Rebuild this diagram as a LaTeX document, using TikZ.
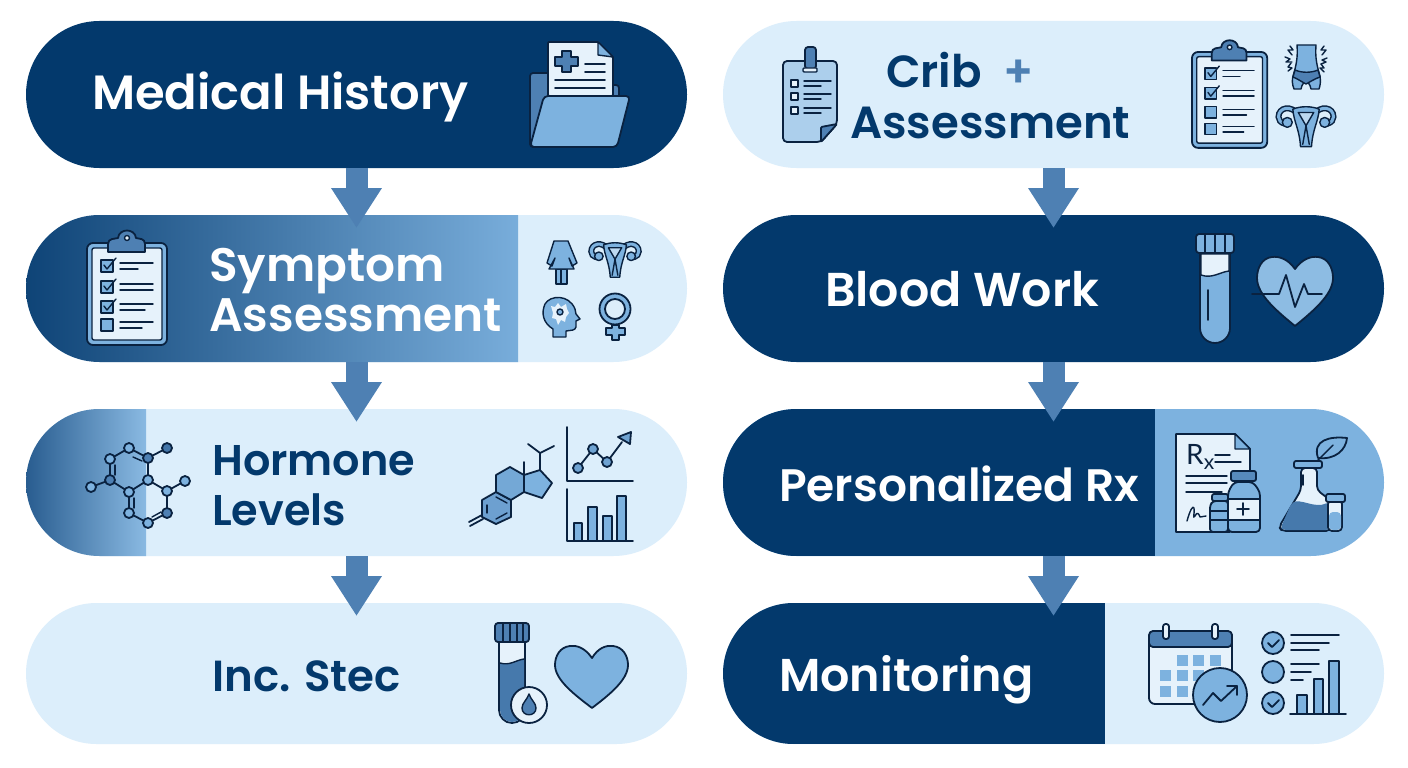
\documentclass[tikz,border=0pt]{standalone}
\usepackage{fontspec}
\setmainfont{Poppins}[BoldFont={Poppins SemiBold}]
\newfontfamily\rxfont{Lato}
\usetikzlibrary{arrows.meta,calc,shapes.misc}

\definecolor{navy}{HTML}{03396C}
\definecolor{sky}{HTML}{DCEEFB}
\definecolor{midblue}{HTML}{7DB2DF}
\definecolor{steel}{HTML}{4E80B3}
\definecolor{ink}{HTML}{0A2240}
\definecolor{paper}{HTML}{E6F2FB}

\tikzset{
  pill/.style={rounded rectangle, minimum width=661pt, minimum height=147pt, inner sep=0pt, outer sep=0pt},
  pilltxt/.style={font=\fontsize{#1}{50}\selectfont\bfseries, anchor=base west, inner sep=0pt, align=left},
  flow/.style={-{Triangle[length=40pt,width=48pt]}, line width=22pt, color=steel},
  icon/.style={draw=ink, line width=1.8pt, line join=round, line cap=round},
  thin icon/.style={draw=ink, line width=1.4pt, line join=round, line cap=round},
}

% clipboard with its board's top left corner at #1, #3 lists the ticked rows
\newcommand{\clipbrd}[3]{
  \begin{scope}[shift={#1}, scale=#2]
    \filldraw[icon, fill=midblue, rounded corners=6pt] (0,0) rectangle (80,102);
    \filldraw[thin icon, fill=paper, rounded corners=2pt] (5,5) rectangle (75,97);
    \filldraw[icon, fill=steel] (21,9) -- (21,1) .. controls (21,-5) and (28,-4) .. (31,-5) .. controls (32,-15) and (48,-15) .. (49,-5) .. controls (52,-4) and (58,-5) .. (58,1) -- (58,9) -- cycle;
    \filldraw[thin icon, fill=paper] (40,-5) circle (2.5);
    \foreach \rowy/\lineone/\linetwo in {17/66/51, 38/66/66, 58/66/58, 76/66/55}{
      \filldraw[thin icon, fill=midblue] (14,\rowy) rectangle (26,\rowy+12);
      \draw[thin icon] (33,\rowy+3) -- (\lineone,\rowy+3);
      \draw[thin icon] (33,\rowy+9) -- (\linetwo,\rowy+9);
    }
    \foreach \rowy in {#3}{
      \draw[thin icon] (17,\rowy+5) -- (20,\rowy+9) -- (29,\rowy-2);
    }
  \end{scope}
}

% uterus with the middle of its top at #1
\newcommand{\womb}[2]{
  \begin{scope}[shift={#1}, scale=#2]
    \draw[ink, line width=6pt, line cap=round] (-7,7) .. controls (-13,-2) and (-25,0) .. (-25,9) .. controls (-25,12) and (-23,14) .. (-20,15);
    \draw[ink, line width=6pt, line cap=round] (7,7) .. controls (13,-2) and (25,0) .. (25,9) .. controls (25,12) and (23,14) .. (20,15);
    \draw[midblue, line width=3pt, line cap=round] (-7,7) .. controls (-13,-2) and (-25,0) .. (-25,9) .. controls (-25,12) and (-23,14) .. (-20,15);
    \draw[midblue, line width=3pt, line cap=round] (7,7) .. controls (13,-2) and (25,0) .. (25,9) .. controls (25,12) and (23,14) .. (20,15);
    \filldraw[thin icon, fill=midblue] (-17,14) circle (4.5);
    \filldraw[thin icon, fill=midblue] (17,14) circle (4.5);
    \filldraw[thin icon, fill=midblue] (-12,2) .. controls (-5,-1) and (5,-1) .. (12,2) .. controls (11,14) and (6,20) .. (5,36) -- (-5,36) .. controls (-6,20) and (-11,14) .. (-12,2) -- cycle;
    \filldraw[thin icon, fill=paper!60!midblue] (-7,5) -- (7,5) -- (0,17) -- cycle;
    \draw[thin icon] (0,17) -- (-3,34);
    \draw[thin icon] (0,17) -- (3,34);
  \end{scope}
}

\begin{document}
\begin{tikzpicture}[x=1pt,y=-1pt]
  \useasboundingbox (0,0) rectangle (1408,768);
  \fill[white] (0,0) rectangle (1408,768);

  % pills
  \node[pill, fill=navy] (history) at (356.5,94.5) {};
  \node[pill, fill=sky] (symptom) at (356.5,288.5) {};
  \begin{scope}
    \clip[rounded corners=73.5pt] (26,215) rectangle (687,362);
    \shade[left color=navy!85!steel, middle color=navy!55!steel, right color=midblue!90!steel] (26,215) rectangle (518,362);
  \end{scope}
  \node[pill, fill=sky] (hormone) at (356.5,482.5) {};
  \begin{scope}
    \clip[rounded corners=73.5pt] (26,409) rectangle (687,556);
    \shade[left color=navy!50!steel, right color=midblue!90!white] (26,409) rectangle (146,556);
  \end{scope}
  \node[pill, fill=sky, minimum height=141pt] (incstec) at (356.5,673.5) {};
  \node[pill, fill=sky] (crib) at (1053.5,94.5) {};
  \node[pill, fill=navy] (blood) at (1053.5,288.5) {};
  \node[pill, fill=midblue, path picture={
    \fill[navy] (path picture bounding box.north west) rectangle ([xshift=432pt]path picture bounding box.south west);}]
    (rx) at (1053.5,482.5) {};
  \node[pill, fill=sky, minimum height=141pt, path picture={
    \fill[navy] (path picture bounding box.north west) rectangle ([xshift=382pt]path picture bounding box.south west);}]
    (monitor) at (1053.5,673.5) {};

  % connectors
  \draw[flow] (history.south) -- ($(symptom.north)+(0,13)$);
  \draw[flow] (symptom.south) -- ($(hormone.north)+(0,13)$);
  \draw[flow] (hormone.south) -- ($(incstec.north)+(0,13)$);
  \draw[flow] (crib.south) -- ($(blood.north)+(0,13)$);
  \draw[flow] (blood.south) -- ($(rx.north)+(0,13)$);
  \draw[flow] (rx.south) -- ($(monitor.north)+(0,13)$);

  % labels
  \node[pilltxt=48, text=white] (historytxt) at (92,110) {Medical History};
  \node[pilltxt=47, text=white] (symptomtxt) at (209,331) {Symptom\\Assessment};
  \node[pilltxt=43, text=navy] (hormonetxt) at (212,525) {Hormone\\Levels};
  \node[pilltxt=43.5, text=navy] (incstectxt) at (212,691) {Inc. Stec};
  \node[pilltxt=45, text=navy] (cribtxt) at (886,88) {Crib};
  \node[pilltxt=45, text=steel] (plustxt) at (1003,88) {+};
  \node[pilltxt=45, text=navy] (assesstxt) at (850,138) {Assessment};
  \node[pilltxt=47.5, text=white] (bloodtxt) at (825,306) {Blood Work};
  \node[pilltxt=45.5, text=white] (rxtxt) at (779,501) {Personalized Rx};
  \node[pilltxt=46, text=white] (monitortxt) at (779,691) {Monitoring};

  % folder
  \filldraw[icon, fill=steel, rounded corners=3pt] (530,147) -- (530,73) -- (560,73) -- (560,85) -- (619,85) -- (619,100) -- (600,147) -- cycle;
  \filldraw[icon, fill=paper, rounded corners=1pt] (548,96) -- (548,42) -- (598,42) -- (613,57) -- (613,96) -- cycle;
  \filldraw[thin icon, fill=midblue] (598,42) -- (598,55) -- (613,57) -- cycle;
  \filldraw[icon, fill=steel] (562,51) -- (571,51) -- (571,57) -- (578,57) -- (578,66) -- (571,66) -- (571,72) -- (562,72) -- (562,66) -- (555,66) -- (555,57) -- (562,57) -- cycle;
  \draw[icon] (585,64) -- (605,64);
  \draw[icon] (585,72) -- (605,72);
  \draw[icon] (555,80) -- (605,80);
  \draw[icon] (555,88) -- (605,88);
  \filldraw[icon, fill=midblue, rounded corners=4pt] (544,96) -- (630,96) -- (617,147) -- (530,147) -- cycle;

  % note card
  \filldraw[icon, fill=midblue!55!paper, rounded corners=4pt] (821,142) -- (783,142) -- (783,61) -- (837,61) -- (837,124) -- cycle;
  \filldraw[icon, fill=steel, rounded corners=1pt] (821,142) -- (821,127) -- (837,124) -- cycle;
  \filldraw[icon, fill=steel, rounded corners=3pt] (805,69) -- (805,47) -- (816,47) -- (816,69) -- cycle;
  \filldraw[thin icon, fill=paper, rounded corners=1pt] (803,68) rectangle (817,72);
  \foreach \rowy in {80,93,107}{
    \filldraw[thin icon, fill=paper] (791,\rowy) rectangle (798,\rowy+7);
    \draw[thin icon] (804,\rowy+1) -- (831,\rowy+1);
    \draw[thin icon] (804,\rowy+6) -- (821,\rowy+6);
  }

  % clipboards
  \clipbrd{(87,243)}{1}{17,38,58}
  \clipbrd{(1192,52)}{0.94}{17,38}

  % belly
  \filldraw[thin icon, fill=midblue] (1297,45) -- (1316,45) .. controls (1315,58) and (1317,66) .. (1320,76) .. controls (1321,82) and (1320,86) .. (1319,89) -- (1311,89) .. controls (1310,84) and (1308,82) .. (1306,82) .. controls (1304,82) and (1302,84) .. (1301,89) -- (1294,89) .. controls (1292,84) and (1292,80) .. (1293,76) .. controls (1296,66) and (1298,58) .. (1297,45) -- cycle;
  \filldraw[thin icon, fill=steel] (1295,70) .. controls (1302,73) and (1311,73) .. (1318,70) -- (1320,77) .. controls (1314,79) and (1310,82) .. (1306,84) .. controls (1302,82) and (1298,79) .. (1293,77) -- cycle;
  \draw[thin icon] (1290,46) -- (1293,50) -- (1288,50) -- (1292,55);
  \draw[thin icon] (1285,57) -- (1290,59) -- (1286,62) -- (1292,62);
  \draw[thin icon] (1291,63) -- (1288,67) -- (1292,68) -- (1288,71);
  \draw[thin icon] (1324,46) -- (1321,50) -- (1326,50) -- (1322,55);
  \draw[thin icon] (1327,58) -- (1322,60) -- (1326,62) -- (1321,64);
  \draw[thin icon] (1321,64) -- (1324,68) -- (1320,68) -- (1324,72);

  % uteri
  \womb{(615,243)}{0.95}
  \womb{(1306,107)}{1.1}

  % woman
  \filldraw[thin icon, fill=midblue] (556,269) rectangle (561,284);
  \filldraw[thin icon, fill=midblue] (561,269) rectangle (567,284);
  \filldraw[thin icon, fill=midblue] (554,241) -- (568,241) -- (577,263) -- (572,266) -- (569,258) -- (574,269) -- (549,269) -- (555,258) -- (552,266) -- (547,263) -- cycle;

  % head
  \filldraw[thin icon, fill=midblue] (553,337) -- (553,329) .. controls (543,323) and (541,313) .. (545,304) .. controls (550,295) and (569,294) .. (575,309) -- (576,314) -- (580,319) -- (576,321) -- (576,327) .. controls (575,331) and (571,330) .. (566,331) -- (566,337) -- cycle;
  \fill[paper] (551,306) -- (555,307) -- (558,303) -- (561,307) -- (566,304) -- (567,309) -- (569,313) -- (566,317) -- (565,322) -- (561,320) -- (558,325) -- (556,319) -- (552,318) -- (553,313) -- cycle;
  \filldraw[thin icon, fill=midblue] (560,312) circle (3);

  % venus
  \filldraw[icon, fill=midblue, even odd rule] (615,309) circle (15.5) (615,309) circle (10);
  \filldraw[icon, fill=midblue] (612,325) -- (619,325) -- (619,328) -- (625,328) -- (625,335) -- (619,335) -- (619,340) -- (612,340) -- (612,335) -- (606,335) -- (606,328) -- (612,328) -- cycle;

  % molecule
  \coordinate (ma) at (129,448);
  \coordinate (mb) at (110,459);
  \coordinate (mc) at (148,458);
  \coordinate (md) at (167,448);
  \coordinate (me) at (110,480);
  \coordinate (mf) at (91,487);
  \coordinate (mg) at (148,480);
  \coordinate (mh) at (129,492);
  \coordinate (mi) at (167,491);
  \coordinate (mj) at (185,481);
  \coordinate (mk) at (129,513);
  \coordinate (ml) at (148,523);
  \coordinate (mm) at (167,513);
  \foreach \bondA/\bondB in {ma/mb,ma/mc,mb/me,mc/md,mc/mg,me/mf,me/mh,mg/mh,mg/mi,mi/mj,mi/mm,mh/mk,mk/ml,ml/mm}{
    \draw[icon] (\bondA) -- (\bondB);
  }
  \draw[thin icon] (133,457) -- (142,461);
  \draw[thin icon] (115,465) -- (115,475);
  \draw[thin icon] (134,498) -- (134,508);
  \draw[thin icon] (152,517) -- (161,512);
  \foreach \atom in {ma,mb,mf,mg,mh,mi,mj,mk,ml}{
    \filldraw[icon, fill=midblue] (\atom) circle (5);
  }
  \foreach \atom in {mc,me,mm}{
    \filldraw[icon, fill=steel] (\atom) circle (5);
  }
  \filldraw[icon, fill=steel!85!navy] (md) circle (5);

  % steroid
  \filldraw[icon, fill=midblue!65!steel] (482,500) -- (496,492) -- (511,500) -- (511,517) -- (496,524) -- (482,517) -- cycle;
  \filldraw[icon, fill=midblue!80!steel] (496,492) -- (496,475) -- (510,467) -- (524,475) -- (524,492) -- (511,500) -- cycle;
  \filldraw[icon, fill=midblue] (524,475) -- (540,470) -- (552,483) -- (542,498) -- (524,492) -- cycle;
  \draw[icon] (469,522) -- (482,515);
  \draw[icon] (470,526) -- (483,519);
  \draw[icon] (524,475) -- (524,462);
  \draw[icon] (540,470) -- (540,453);
  \draw[icon] (528,444) -- (540,453) -- (554,446);
  \draw[thin icon] (496,497) -- (507,503);
  \draw[thin icon] (496,519) -- (507,513);
  \draw[thin icon] (487,505) -- (487,513);

  % line chart
  \draw[icon] (567,427) -- (567,481) -- (633,481);
  \draw[icon] (578,468) -- (593,449) -- (607,462) -- (622,442);
  \filldraw[icon, fill=midblue!70!steel] (578,468) circle (5);
  \filldraw[icon, fill=midblue!70!steel] (593,449) circle (5);
  \filldraw[icon, fill=midblue!70!steel] (607,462) circle (5);
  \filldraw[icon, fill=midblue!70!steel] (631,432) -- (618,437) -- (630,444) -- cycle;

  % bar chart
  \filldraw[icon, fill=midblue] (574,523) rectangle (582,541);
  \filldraw[icon, fill=midblue] (588,507) rectangle (597,541);
  \filldraw[icon, fill=midblue] (603,516) rectangle (612,541);
  \filldraw[icon, fill=midblue] (617,496) rectangle (626,541);
  \draw[icon] (567,489) -- (567,541) -- (633,541);

  % tube with drop
  \filldraw[icon, fill=paper] (499,642) -- (525,642) -- (525,710) arc[start angle=0, end angle=180, radius=13] -- cycle;
  \fill[steel!90!navy] (500,663) .. controls (510,666) and (516,660) .. (524,659) -- (524,710) arc[start angle=0, end angle=180, radius=12] -- cycle;
  \draw[thin icon] (500,663) .. controls (510,666) and (516,660) .. (524,659);
  \filldraw[icon, fill=steel, rounded corners=3pt] (495,623) rectangle (529,642);
  \draw[icon] (503,623) -- (503,642);
  \draw[icon] (510,623) -- (510,642);
  \draw[icon] (517,623) -- (517,642);
  \draw[icon] (523,623) -- (523,642);
  \filldraw[icon, fill=paper] (529,705) circle (18);
  \filldraw[thin icon, fill=steel] (529,694) .. controls (531,700) and (536,703) .. (536,708) .. controls (536,717) and (522,717) .. (522,708) .. controls (522,703) and (527,700) .. (529,694) -- cycle;

  % heart
  \filldraw[icon, fill=midblue] (592,658) .. controls (585,648) and (577,645) .. (570,646) .. controls (560,647) and (555,656) .. (555,665) .. controls (555,680) and (575,695) .. (592,708) .. controls (609,695) and (628,680) .. (628,665) .. controls (628,656) and (623,647) .. (613,646) .. controls (606,645) and (598,648) .. (592,658) -- cycle;

  % blood tube
  \filldraw[icon, fill=midblue] (1200,253) -- (1230,253) -- (1230,328) arc[start angle=0, end angle=180, radius=15] -- cycle;
  \filldraw[thin icon, fill=paper] (1201,254) -- (1229,254) -- (1229,271) .. controls (1220,272) and (1212,279) .. (1201,275) -- cycle;
  \draw[icon] (1208,290) -- (1208,320);
  \filldraw[icon, fill=midblue, rounded corners=3pt] (1196,234) rectangle (1234,253);
  \draw[icon] (1205,234) -- (1205,253);
  \draw[icon] (1215,234) -- (1215,253);
  \draw[icon] (1225,234) -- (1225,253);

  % pulse heart
  \filldraw[icon, fill=midblue!85!paper] (1295,269) .. controls (1288,259) and (1279,256) .. (1272,257) .. controls (1262,258) and (1257,268) .. (1257,278) .. controls (1257,295) and (1278,312) .. (1295,326) .. controls (1312,312) and (1333,295) .. (1333,278) .. controls (1333,268) and (1328,258) .. (1318,257) .. controls (1311,256) and (1302,259) .. (1295,269) -- cycle;
  \draw[icon] (1252,294) -- (1279,294) -- (1286,275) -- (1295,307) -- (1304,284) -- (1308,294) -- (1322,294);

  % prescription
  \filldraw[icon, fill=paper] (1250,500) -- (1250,449) -- (1235,434) -- (1176,434) -- (1176,532) -- (1230,532);
  \filldraw[thin icon, fill=midblue] (1235,434) -- (1235,449) -- (1250,449) -- cycle;
  \node[inner sep=0pt, anchor=base west, text=ink, font=\rxfont\fontsize{28}{28}\selectfont] (rxsign) at (1186,464) {R\raisebox{-5pt}{\fontsize{21}{21}\selectfont x}};
  \draw[thin icon] (1215,455) -- (1230,455);
  \draw[thin icon] (1215,462) -- (1241,462);
  \draw[thin icon] (1186,476) -- (1227,476);
  \draw[thin icon] (1186,483) -- (1227,483);
  \draw[thin icon] (1186,492) -- (1222,492);
  \draw[thin icon] (1187,521) .. controls (1190,510) and (1193,505) .. (1194,508) .. controls (1195,513) and (1192,520) .. (1195,516) .. controls (1197,511) and (1199,514) .. (1200,517) -- (1206,516);

  % bottles
  \filldraw[icon, fill=midblue!70!steel, rounded corners=2pt] (1212,494) rectangle (1228,501);
  \filldraw[icon, fill=midblue, rounded corners=3pt] (1210,532) -- (1210,505) -- (1213,501) -- (1228,501) -- (1228,532) -- cycle;
  \draw[thin icon] (1210,511) -- (1228,511);
  \draw[thin icon] (1210,520) -- (1228,520);
  \filldraw[icon, fill=midblue, rounded corners=4pt] (1228,532) -- (1228,492) -- (1234,482) -- (1253,482) -- (1260,492) -- (1260,532) -- cycle;
  \filldraw[thin icon, fill=paper] (1228,499) rectangle (1260,520);
  \draw[icon] (1237,509) -- (1249,509);
  \draw[icon] (1243,503) -- (1243,515);
  \filldraw[icon, fill=steel!80!midblue, rounded corners=2pt] (1231,471) rectangle (1256,481);

  % flask
  \filldraw[icon, fill=paper, rounded corners=4pt] (1301,468) -- (1301,490) -- (1279,527) -- (1282,531) -- (1330,531) -- (1330,500) -- (1317,490) -- (1317,468) -- cycle;
  \fill[steel!90!navy, rounded corners=3pt] (1291,504) .. controls (1300,498) and (1315,509) .. (1329,502) -- (1329,530) -- (1283,530) -- (1281,527) -- cycle;
  \draw[icon] (1303,475) -- (1303,485);
  \filldraw[icon, fill=midblue, rounded corners=2pt] (1294,461) rectangle (1322,468);
  \filldraw[icon, fill=paper, rounded corners=4pt] (1328,500) -- (1328,531) -- (1342,531) -- (1342,500) -- cycle;
  \fill[midblue, rounded corners=4pt] (1329,512) -- (1341,512) -- (1341,530) -- (1329,530) -- cycle;
  \filldraw[icon, fill=midblue, rounded corners=2pt] (1326,494) rectangle (1345,502);
  \draw[icon] (1318,458) .. controls (1312,440) and (1330,436) .. (1347,438) .. controls (1346,450) and (1335,460) .. (1318,458);
  \draw[thin icon] (1317,461) -- (1333,445);

  % calendar
  \filldraw[icon, fill=paper, rounded corners=6pt] (1149,631) rectangle (1232,704);
  \filldraw[icon, fill=steel, rounded corners=4pt] (1149,647) -- (1149,631) -- (1232,631) -- (1232,647) -- cycle;
  \filldraw[icon, fill=paper, rounded corners=2.5pt] (1163,624) rectangle (1169,639);
  \filldraw[icon, fill=paper, rounded corners=2.5pt] (1212,624) rectangle (1218,639);
  \foreach \cellx/\celly in {1177/655,1193/655,1210/655,1160/670,1177/670,1193/670,1160/686,1177/686}{
    \fill[midblue] (\cellx,\celly) rectangle ++(11,11);
  }
  \filldraw[icon, fill=midblue] (1220,695) circle (27);
  \draw[icon] (1203,705) -- (1213,693) -- (1221,701) -- (1237,686);
  \draw[icon] (1227,686) -- (1237,686) -- (1237,695);

  % checklist
  \filldraw[icon, fill=midblue] (1273,643) circle (11);
  \filldraw[icon, fill=midblue] (1273,672) circle (11);
  \filldraw[icon, fill=midblue] (1273,703) circle (11);
  \draw[icon] (1268,643) -- (1272,647) -- (1279,640);
  \draw[icon] (1268,703) -- (1272,707) -- (1279,700);
  \draw[icon] (1291,635) -- (1339,635);
  \draw[icon] (1291,643) -- (1329,643);
  \draw[icon] (1291,650) -- (1319,650);
  \draw[icon] (1291,664) -- (1319,664);
  \draw[icon] (1291,672) -- (1311,672);
  \draw[icon] (1291,680) -- (1303,680);
  \filldraw[icon, fill=midblue] (1297,695) rectangle (1307,714);
  \filldraw[icon, fill=midblue] (1314,679) rectangle (1323,714);
  \filldraw[icon, fill=midblue] (1329,661) rectangle (1339,714);
  \draw[icon] (1290,714) -- (1346,714);
\end{tikzpicture}
\end{document}
